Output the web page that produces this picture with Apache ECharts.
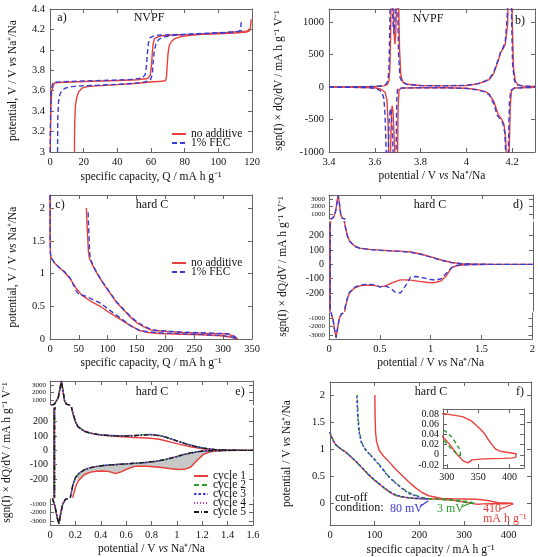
<!DOCTYPE html>
<html>
<head>
<meta charset="utf-8">
<script src="https://cdn.jsdelivr.net/npm/echarts@6/dist/echarts.min.js"></script>
<style>
  html, body { margin: 0; padding: 0; background: #fff; }
  #chart { width: 538px; height: 557px; }
</style>
</head>
<body>
<div id="chart"></div>
<script>
// ---- panel a: NVPF voltage profiles [capacity, potential]
const aRedCharge = [[14.5,3.0],[14.7,3.3],[15.1,3.45],[15.8,3.53],[17,3.59],[19,3.625],[22,3.64],[30,3.65],[40,3.66],[50,3.67],[60,3.685],[66,3.692],[68.6,3.697],[69.2,3.74],[69.6,3.85],[70.1,3.96],[70.8,4.04],[72,4.08],[74,4.11],[78,4.13],[85,4.145],[95,4.16],[105,4.17],[112,4.178],[116,4.183],[118.3,4.19],[119.1,4.22],[119.5,4.3]];
const aRedDisch = [[119,4.19],[117,4.175],[110,4.165],[100,4.158],[85,4.15],[72,4.145],[65,4.135],[62,4.11],[61.2,4.05],[60.7,3.95],[60.2,3.83],[59.5,3.75],[58,3.72],[52,3.707],[40,3.7],[25,3.692],[12,3.685],[5,3.68],[2.5,3.675],[1.5,3.66],[1,3.6],[0.6,3.45],[0.3,3.2],[0.2,3.0]];
const aBlueCharge = [[4.5,3.0],[4.6,3.3],[5,3.48],[5.8,3.56],[7,3.6],[9,3.625],[13,3.64],[20,3.648],[30,3.655],[40,3.662],[50,3.672],[56,3.685],[59.5,3.7],[60.8,3.76],[61.3,3.88],[61.9,3.98],[62.8,4.05],[64.5,4.1],[67,4.125],[72,4.14],[80,4.15],[90,4.16],[100,4.168],[108,4.175],[112.5,4.182],[113.3,4.22],[113.8,4.3]];
const aBlueDisch = [[113.8,4.19],[112,4.178],[105,4.168],[95,4.16],[80,4.152],[68,4.147],[62,4.14],[59.5,4.12],[58.4,4.06],[57.8,3.96],[57.3,3.84],[56.6,3.76],[55,3.725],[48,3.71],[35,3.702],[20,3.695],[8,3.688],[3,3.683],[1.5,3.67],[0.8,3.6],[0.4,3.45],[0.2,3.2],[0.1,3.0]];

// ---- panel b: NVPF dQ/dV [potential, sgn(I) dQ/dV]
const bRedCharge = [[3.40,2],[3.5,3],[3.6,7],[3.64,18],[3.655,40],[3.662,100],[3.666,280],[3.669,750],[3.672,1500],[3.676,1800],[3.68,1250],[3.684,850],[3.688,660],[3.692,850],[3.696,1500],[3.7,2000],[3.704,1400],[3.708,600],[3.714,180],[3.722,80],[3.74,42],[3.8,22],[3.9,18],[4.0,24],[4.05,48],[4.08,82],[4.1,115],[4.12,210],[4.14,410],[4.15,530],[4.16,585],[4.17,660],[4.18,950],[4.188,1800],[4.195,2200],[4.2,1100],[4.206,300],[4.214,90],[4.225,30],[4.25,13],[4.3,7]];
const bRedDisch = [[3.40,-2],[3.5,-4],[3.6,-12],[3.625,-30],[3.645,-80],[3.653,-200],[3.658,-550],[3.662,-1200],[3.666,-1500],[3.67,-800],[3.673,-400],[3.676,-290],[3.68,-380],[3.685,-800],[3.69,-1400],[3.695,-1800],[3.699,-1200],[3.702,-300],[3.706,-40],[3.72,-15],[3.8,-12],[3.9,-12],[4.0,-20],[4.05,-40],[4.08,-68],[4.1,-105],[4.12,-220],[4.14,-430],[4.155,-500],[4.165,-580],[4.172,-800],[4.178,-1400],[4.183,-1700],[4.188,-900],[4.192,-300],[4.197,-60],[4.21,-15],[4.3,-5]];
const bBlueCharge = [[3.40,2],[3.5,3],[3.6,8],[3.635,20],[3.65,45],[3.658,110],[3.662,300],[3.665,800],[3.668,1500],[3.672,1800],[3.676,1300],[3.68,950],[3.684,820],[3.688,1000],[3.692,1600],[3.696,2000],[3.7,1300],[3.704,500],[3.71,150],[3.72,70],[3.74,40],[3.8,22],[3.9,18],[4.0,26],[4.05,52],[4.08,88],[4.1,125],[4.12,230],[4.14,430],[4.15,545],[4.16,600],[4.17,700],[4.178,1050],[4.186,1900],[4.192,2200],[4.197,1200],[4.202,350],[4.21,100],[4.22,35],[4.25,14],[4.3,8]];
const bBlueDisch = [[3.40,-2],[3.5,-4],[3.58,-12],[3.61,-30],[3.63,-70],[3.64,-180],[3.645,-450],[3.65,-1000],[3.655,-1500],[3.659,-1000],[3.663,-500],[3.668,-330],[3.673,-420],[3.678,-800],[3.683,-1300],[3.688,-1700],[3.692,-1300],[3.696,-200],[3.7,-20],[3.72,-15],[3.8,-12],[3.9,-12],[4.0,-22],[4.05,-45],[4.08,-75],[4.1,-120],[4.12,-260],[4.135,-440],[4.15,-500],[4.16,-560],[4.168,-700],[4.174,-1200],[4.179,-1700],[4.184,-900],[4.188,-250],[4.194,-50],[4.21,-15],[4.3,-5]];

// ---- panel c: hard carbon voltage profiles
const cRedDisch = [[0,2.2],[0.2,1.5],[0.8,1.3],[2,1.24],[8,1.16],[15,1.1],[25,1.02],[35,0.92],[45,0.78],[55,0.67],[70,0.58],[87,0.5],[105,0.39],[122,0.3],[140,0.2],[155,0.13],[170,0.1],[190,0.085],[230,0.072],[261,0.066],[296,0.05],[312,0.03],[319,0.015],[325,0.003]];
const cRedCharge = [[325,0.003],[319,0.04],[307,0.077],[280,0.085],[261,0.09],[230,0.1],[203,0.117],[185,0.125],[174,0.14],[162,0.19],[151,0.245],[140,0.33],[127,0.45],[115,0.56],[104,0.7],[92,0.85],[81,1.01],[74,1.12],[68,1.24],[66.5,1.35],[65,1.6],[64,1.8],[63,2.0]];
const cBlueDisch = [[0,2.2],[0.2,1.5],[0.8,1.3],[2,1.24],[8,1.16],[15,1.1],[25,1.03],[35,0.93],[45,0.74],[50,0.68],[60,0.66],[70,0.62],[87,0.55],[105,0.43],[122,0.32],[140,0.2],[155,0.13],[170,0.11],[190,0.095],[230,0.08],[261,0.07],[296,0.055],[312,0.035],[319,0.02],[323,0.005]];
const cBlueCharge = [[323,0.005],[320,0.04],[308,0.08],[280,0.09],[261,0.095],[230,0.105],[203,0.12],[185,0.13],[174,0.15],[162,0.2],[151,0.26],[140,0.34],[127,0.46],[115,0.57],[104,0.71],[92,0.86],[82,1.0],[76,1.1],[70,1.22],[68.5,1.35],[67.5,1.6],[66.5,1.8],[66,1.98]];

// ---- panel d: hard carbon dQ/dV, no additive vs FEC
const dDisX = [2.0,1.6,1.4,1.3,1.25,1.2,1.15,1.1,1.05,1.0,0.95,0.9,0.85,0.8,0.75,0.7,0.65,0.6,0.55,0.5,0.45,0.4,0.35,0.3,0.25,0.2,0.18,0.16,0.14,0.12,0.1,0.085,0.07,0.055,0.04,0.025,0.015,0.012];
const dRedDis = [0,0,-1,-5,-10,-23,-80,-115,-125,-128,-125,-120,-115,-110,-108,-108,-120,-135,-152,-155,-148,-145,-146,-150,-165,-200,-240,-300,-400,-560,-1100,-2100,-3300,-2400,-1200,-600,-430,-420];
const dBlueDis = [0,0,-1,-3,-8,-25,-62,-100,-110,-106,-98,-90,-85,-88,-150,-200,-195,-165,-150,-158,-143,-140,-140,-145,-160,-195,-235,-290,-390,-560,-1150,-2200,-3300,-2400,-1200,-600,-430,-420];
const dChgX = [0.012,0.02,0.035,0.05,0.065,0.08,0.09,0.1,0.115,0.13,0.145,0.16,0.18,0.2,0.25,0.3,0.4,0.5,0.6,0.7,0.8,0.9,1.0,1.1,1.2,1.3,1.4,1.5,1.6,1.8,2.0];
const dRedChg = [280,310,420,700,1400,2800,3600,2600,900,420,320,260,200,165,128,113,104,99,95,92,86,72,52,30,13,5,2,1,0,0,0];
const dBlueChg = [280,300,400,680,1350,2700,3500,2700,950,430,325,262,198,163,126,112,103,98,94,90,84,70,50,28,12,5,2,1,0,0,0];

// ---- panel e: hard carbon dQ/dV, cycles 1-5
const eDisX = [1.6,1.5,1.4,1.35,1.3,1.25,1.2,1.15,1.1,1.05,1.0,0.95,0.9,0.85,0.8,0.75,0.7,0.65,0.6,0.55,0.5,0.45,0.4,0.35,0.3,0.25,0.2,0.18,0.16,0.14,0.12,0.1,0.085,0.07,0.055,0.04,0.025,0.015,0.012];
const eChgX = [0.012,0.02,0.035,0.05,0.065,0.08,0.09,0.1,0.115,0.13,0.145,0.16,0.18,0.2,0.25,0.3,0.35,0.4,0.45,0.5,0.55,0.6,0.65,0.7,0.75,0.8,0.85,0.9,0.95,1.0,1.05,1.1,1.15,1.2,1.25,1.3,1.35,1.4,1.5,1.6];
const eDis = [
  [0,0,-1,-2,-5,-12,-30,-72,-118,-132,-133,-128,-123,-118,-114,-111,-110,-112,-128,-148,-162,-148,-144,-146,-152,-170,-215,-255,-320,-400,-520,-1000,-2000,-3300,-2500,-1300,-600,-430,-420],
  [0,0,0,-1,-2,-4,-6,-12,-20,-30,-42,-54,-65,-74,-80,-85,-88,-91,-94,-97,-100,-103,-107,-113,-122,-137,-168,-193,-240,-325,-490,-1050,-2100,-3350,-2500,-1300,-600,-425,-415],
  [0,0,0,-1,-2,-3,-6,-11,-19,-29,-41,-53,-64,-73,-79,-84,-88,-91,-93,-96,-99,-102,-106,-112,-121,-136,-166,-191,-237,-322,-485,-1050,-2100,-3350,-2500,-1300,-600,-425,-415],
  [0,0,0,-1,-2,-3,-5,-10,-18,-28,-40,-52,-63,-72,-78,-83,-87,-90,-93,-96,-99,-102,-106,-112,-120,-135,-165,-190,-236,-321,-482,-1050,-2100,-3350,-2500,-1300,-600,-425,-415],
  [0,0,0,-1,-2,-3,-5,-10,-18,-28,-40,-52,-63,-72,-78,-83,-87,-90,-93,-96,-99,-102,-106,-112,-120,-135,-165,-190,-235,-320,-480,-1050,-2100,-3350,-2500,-1300,-600,-425,-415]
];
const eChg = [
  [280,310,420,650,1300,2700,3600,2500,850,400,310,255,200,165,135,120,112,106,102,98,95,92,90,88,86,83,77,67,56,45,35,25,17,11,6,3,2,1,0,0],
  [280,310,420,650,1300,2700,3600,2500,850,400,310,256,199,164,134,119,112,107,104,102,101,102,104,107,110,109,103,93,79,64,50,37,26,17,10,5,3,1,0,0],
  [280,310,420,650,1300,2700,3600,2500,850,400,310,256,199,164,134,120,112,107,104,102,101,101,103,106,110,110,104,93,79,63,49,36,25,16,10,5,3,1,0,0],
  [280,310,420,650,1300,2700,3600,2500,850,400,310,255,198,163,133,119,111,106,103,101,100,101,103,106,109,109,103,92,78,63,49,36,25,16,10,5,3,1,0,0],
  [280,310,420,650,1300,2700,3600,2500,850,400,310,255,198,163,133,119,111,106,103,101,100,100,102,105,108,108,102,92,78,63,49,36,25,16,10,5,3,1,0,0]
];
const cycleNames = ['cycle 1','cycle 2','cycle 3','cycle 4','cycle 5'];

// ---- panel f: rate / cut-off curves
const fRedDisch = [[0,1.32],[2,1.25],[8,1.15],[13,1.08],[25,1.0],[36,0.94],[47,0.86],[58,0.77],[72,0.65],[87,0.52],[102,0.41],[117,0.31],[128,0.24],[139,0.18],[150,0.14],[161,0.12],[175,0.1],[191,0.09],[210,0.085],[235,0.08],[273,0.06],[294,0.035],[305,0.02],[315,0.003],[326,-0.012],[334,-0.016],[340,-0.01],[360,-0.008],[390,-0.007],[405,-0.006],[410,-0.005]];
const fRedCharge = [[410,-0.005],[410.5,0.002],[405,0.003],[395,0.005],[385,0.007],[378,0.011],[372,0.02],[366,0.03],[360,0.042],[352,0.052],[340,0.066],[325,0.075],[300,0.08],[280,0.083],[250,0.09],[221,0.14],[206,0.2],[191,0.29],[176,0.4],[161,0.52],[146,0.64],[132,0.77],[120,0.87],[110,0.98],[104,1.15],[102,1.32],[101,1.6],[100.5,2.0]];
const fBlueDisch = [[0,1.32],[2,1.25],[8,1.15],[13,1.08],[25,1.0],[36,0.94],[47,0.86],[58,0.78],[72,0.66],[87,0.53],[102,0.42],[117,0.32],[128,0.25],[139,0.19],[150,0.15],[161,0.125],[175,0.105],[191,0.095],[210,0.088],[220,0.08]];
const fBlueCharge = [[220,0.08],[215,0.09],[206,0.1],[191,0.14],[176,0.18],[162,0.27],[147,0.37],[130,0.5],[110,0.71],[95,0.85],[80,0.98],[70,1.12],[65,1.32],[62,1.6],[60,2.0]];
const fGreenDisch = [[0,1.32],[2,1.25],[8,1.15],[13,1.08],[25,1.0],[36,0.94],[47,0.86],[58,0.77],[72,0.65],[87,0.52],[102,0.41],[117,0.31],[128,0.24],[139,0.18],[150,0.14],[161,0.12],[175,0.1],[191,0.09],[210,0.085],[235,0.078],[273,0.06],[294,0.03],[305,0.015],[315,0.003],[322,-0.002]];
const fGreenCharge = [[322,-0.002],[321,0.01],[316,0.02],[308,0.035],[298,0.046],[280,0.06],[250,0.075],[221,0.09],[206,0.11],[191,0.15],[176,0.2],[162,0.28],[147,0.38],[130,0.51],[110,0.72],[95,0.86],[80,0.99],[71,1.12],[66,1.32],[63,1.6],[61,2.0]];

const FONT = 'Liberation Serif';
const AX = '#666';
const RED = '#e8403c', BLUE = '#3c3cd2', GREEN = '#2a9d2a', MAG = '#c03cc0', BLACK = '#1a1a1a';
const VS_NA = 'potential / V {i|vs} Na⁺/Na';
const DQDV = 'sgn(I) × dQ/dV / mA h g⁻¹ V⁻¹';

const grids = [], xAxes = [], yAxes = [], series = [];
const plain = v => String(Math.round(v * 1000) / 1000);

function axis(o) {
  const a = {
    type: 'value',
    nameLocation: 'middle',
    axisLine: { show: true, onZero: false, lineStyle: { color: AX, width: 1 } },
    axisTick: { show: true, inside: true, length: 4, lineStyle: { color: AX } },
    axisLabel: { color: '#111', fontSize: 10.5, fontFamily: FONT, margin: 5, formatter: plain, showMaxLabel: true, hideOverlap: false },
    splitLine: { show: false },
    nameTextStyle: { color: '#111', fontSize: 11.5, fontFamily: FONT,
      rich: { i: { fontStyle: 'italic', fontSize: 11.5, fontFamily: FONT, color: '#111' } } }
  };
  for (const k in o) {
    if (a[k] && typeof a[k] === 'object' && !Array.isArray(a[k])) a[k] = Object.assign({}, a[k], o[k]);
    else a[k] = o[k];
  }
  return a;
}
function addGrid(g) { grids.push(g); return grids.length - 1; }
function addX(o) { xAxes.push(axis(o)); return xAxes.length - 1; }
function addY(o) { yAxes.push(axis(o)); return yAxes.length - 1; }
function line(name, xi, yi, data, color, dash, extra) {
  series.push(Object.assign({
    type: 'line', name, xAxisIndex: xi, yAxisIndex: yi, data,
    symbol: 'none', showSymbol: false, color, clip: true, animation: false,
    lineStyle: { color, width: 1.4, type: dash || 'solid' }
  }, extra || {}));
}
const pairs = (xs, ys) => xs.map((x, i) => [x, ys[i]]);
// drop runs of points lying outside [lo, hi]; keep the neighbours that cross the edge
function inBand(data, lo, hi) {
  const out = (p) => !p || p[1] < lo || p[1] > hi;
  return data.map((p, i) => (out(p) && out(data[i - 1]) && out(data[i + 1]) ? [p[0], null] : p));
}
const noMax = { showMaxLabel: false };

// ---- panel a
{
  const g = addGrid({ left: 50, top: 9, width: 202, height: 143 });
  const x = addX({ gridIndex: g, min: 0, max: 120, interval: 20, name: 'specific capacity, Q / mA h g⁻¹', nameGap: 19 });
  addX({ gridIndex: g, min: 0, max: 120, interval: 20, position: 'top', axisLabel: { show: false } });
  const y = addY({ gridIndex: g, min: 3, max: 4.4, interval: 0.2, name: 'potential, V / V {i|vs} Na⁺/Na', nameGap: 31 });
  addY({ gridIndex: g, min: 3, max: 4.4, interval: 0.2, position: 'right', axisLabel: { show: false } });
  line('no additive', x, y, aRedCharge, RED);
  line('no additive', x, y, aRedDisch, RED);
  line('1% FEC', x, y, aBlueCharge, BLUE, [5, 3]);
  line('1% FEC', x, y, aBlueDisch, BLUE, [5, 3]);
}
// ---- panel b
{
  const g = addGrid({ left: 329, top: 9, width: 206, height: 143 });
  const x = addX({ gridIndex: g, min: 3.4, max: 4.3, interval: 0.2, name: VS_NA, nameGap: 18, axisLabel: noMax });
  addX({ gridIndex: g, min: 3.4, max: 4.3, interval: 0.2, position: 'top', axisLabel: { show: false } });
  const y = addY({ gridIndex: g, min: -1000, max: 1200, interval: 500, name: DQDV, nameGap: 44, axisLabel: noMax });
  addY({ gridIndex: g, min: -1000, max: 1200, interval: 500, position: 'right', axisLabel: { show: false } });
  line('no additive', x, y, bRedCharge, RED);
  line('no additive', x, y, bRedDisch, RED);
  line('1% FEC', x, y, bBlueCharge, BLUE, [5, 3]);
  line('1% FEC', x, y, bBlueDisch, BLUE, [5, 3]);
}
// ---- panel c
{
  const g = addGrid({ left: 50, top: 195, width: 202, height: 144 });
  const x = addX({ gridIndex: g, min: 0, max: 350, interval: 50, name: 'specific capacity, Q / mA h g⁻¹', nameGap: 18 });
  addX({ gridIndex: g, min: 0, max: 350, interval: 50, position: 'top', axisLabel: { show: false } });
  const y = addY({ gridIndex: g, min: 0, max: 2.2, interval: 0.5, name: 'potential, V / V {i|vs} Na⁺/Na', nameGap: 31, axisLabel: noMax });
  addY({ gridIndex: g, min: 0, max: 2.2, interval: 0.5, position: 'right', axisLabel: { show: false } });
  line('no additive', x, y, cRedDisch, RED);
  line('no additive', x, y, cRedCharge, RED);
  line('1% FEC', x, y, cBlueDisch, BLUE, [5, 3]);
  line('1% FEC', x, y, cBlueCharge, BLUE, [5, 3]);
}

// broken-axis dQ/dV panel: top (peak), middle, bottom (trough)
function brokenPanel(left, top, width, xmax, xint, loops) {
  const small = { fontSize: 7, lineHeight: 6, margin: 4 };
  const T = [300, 3600], M = [-325, 295], B = [-3470, -410];
  const gT = addGrid({ left, top, width, height: 24 });
  const gM = addGrid({ left, top: top + 27, width, height: 89 });
  const gB = addGrid({ left, top: top + 118, width, height: 26 });
  const xT = addX({ gridIndex: gT, min: 0, max: xmax, interval: xint, position: 'top', axisLabel: { show: false } });
  const xM = addX({ gridIndex: gM, min: 0, max: xmax, interval: xint, show: false });
  const xB = addX({ gridIndex: gB, min: 0, max: xmax, interval: xint, name: VS_NA, nameGap: 18 });
  const topVals = [1000, 2000, 3000], midVals = [-200, -100, 0, 100, 200], botVals = [-3000, -2000, -1000];
  const yT = addY({ gridIndex: gT, min: T[0], max: T[1],
    axisLabel: Object.assign({ customValues: topVals }, small), axisTick: { customValues: topVals } });
  addY({ gridIndex: gT, min: T[0], max: T[1], position: 'right',
    axisLabel: { show: false, customValues: topVals }, axisTick: { customValues: topVals } });
  const yM = addY({ gridIndex: gM, min: M[0], max: M[1], name: DQDV, nameGap: 40,
    axisLabel: { customValues: midVals, fontSize: 10 }, axisTick: { customValues: midVals } });
  addY({ gridIndex: gM, min: M[0], max: M[1], position: 'right',
    axisLabel: { show: false, customValues: midVals }, axisTick: { customValues: midVals } });
  const yB = addY({ gridIndex: gB, min: B[0], max: B[1],
    axisLabel: Object.assign({ customValues: botVals }, small), axisTick: { customValues: botVals } });
  addY({ gridIndex: gB, min: B[0], max: B[1], position: 'right',
    axisLabel: { show: false, customValues: botVals }, axisTick: { customValues: botVals } });
  loops.forEach(l => {
    line(l.name, xT, yT, inBand(l.data, T[0], T[1]), l.color, l.dash);
    line(l.name, xM, yM, inBand(l.data, M[0], M[1]), l.color, l.dash);
    line(l.name, xB, yB, inBand(l.data, B[0], B[1]), l.color, l.dash);
  });
  return { xM, yM };
}

// ---- panel d
brokenPanel(329, 195, 204, 2, 0.5, [
  { name: 'no additive', color: RED, dash: 'solid', data: pairs(dDisX, dRedDis).concat(pairs(dChgX, dRedChg)) },
  { name: '1% FEC', color: BLUE, dash: [5, 3], data: pairs(dDisX, dBlueDis).concat(pairs(dChgX, dBlueChg)) }
]);

// ---- panel e
const eColors = [RED, GREEN, BLUE, MAG, BLACK];
const eDash = ['solid', [5, 3], [2.5, 2], [1, 2], [5, 2, 1, 2]];
const eAx = brokenPanel(50, 381, 203, 1.6, 0.2, cycleNames.map((n, i) => ({
  name: n, color: eColors[i], dash: eDash[i],
  data: pairs(eDisX, eDis[i]).concat(pairs(eChgX, eChg[i]))
})));
// gray area between cycle 1 and cycle 5 on the reduction branch
{
  const fx = eDisX.slice(3, 27), r = eDis[0].slice(3, 27), k = eDis[4].slice(3, 27);
  series.push({
    type: 'custom', xAxisIndex: eAx.xM, yAxisIndex: eAx.yM, data: [[0.6, -100]], z: 1,
    silent: true, animation: false, clip: true,
    renderItem(params, api) {
      const pts = [];
      for (let i = 0; i < fx.length; i++) pts.push(api.coord([fx[i], r[i]]));
      for (let i = fx.length - 1; i >= 0; i--) pts.push(api.coord([fx[i], k[i]]));
      return { type: 'polygon', shape: { points: pts }, style: { fill: '#c8c8c8', stroke: '#999', lineWidth: 0.5 } };
    }
  });
}

// ---- panel f
{
  const g = addGrid({ left: 330, top: 382, width: 201, height: 143 });
  const yTicks = [0, 0.5, 1, 1.5, 2];
  const x = addX({ gridIndex: g, min: 0, max: 450, interval: 100, name: 'specific capacity / mA h g⁻¹', nameGap: 19, axisLabel: noMax });
  addX({ gridIndex: g, min: 0, max: 450, interval: 100, position: 'top', axisLabel: { show: false } });
  const y = addY({ gridIndex: g, min: -0.4, max: 2.24, name: VS_NA, nameGap: 37,
    axisLabel: { customValues: yTicks }, axisTick: { customValues: yTicks } });
  addY({ gridIndex: g, min: -0.4, max: 2.24, position: 'right',
    axisLabel: { show: false, customValues: yTicks }, axisTick: { customValues: yTicks } });
  const arrow = (color, from, to) => ({
    silent: true, animation: false, symbol: ['none', 'arrow'], symbolSize: [0, 7],
    label: { show: false }, lineStyle: { color, type: 'solid', width: 1.2 },
    data: [[{ coord: from }, { coord: to }]]
  });
  line('410', x, y, fRedDisch, RED, 'solid', { markLine: arrow(RED, [380, -0.11], [410, -0.013]) });
  line('410', x, y, fRedCharge, RED);
  line('3 mV', x, y, fGreenDisch, GREEN, [4, 3], { markLine: arrow(GREEN, [295, -0.063], [317, 0.011]) });
  line('3 mV', x, y, fGreenCharge, GREEN, [4, 3]);
  line('80 mV', x, y, fBlueDisch, BLUE, [2.5, 2], { markLine: arrow(BLUE, [201, -0.063], [220, 0.048]) });
  line('80 mV', x, y, fBlueCharge, BLUE, [2.5, 2]);

  // inset
  const gi = addGrid({ left: 443, top: 409, width: 81, height: 59 });
  const ixT = [300, 350, 400], iyT = [-0.02, 0, 0.02, 0.04, 0.06, 0.08];
  const xi = addX({ gridIndex: gi, min: 294, max: 423, axisLabel: { customValues: ixT, fontSize: 10, margin: 4 }, axisTick: { customValues: ixT } });
  addX({ gridIndex: gi, min: 294, max: 423, position: 'top', axisLabel: { show: false, customValues: ixT }, axisTick: { customValues: ixT } });
  const yi = addY({ gridIndex: gi, min: -0.026, max: 0.09, axisLabel: { customValues: iyT, fontSize: 10, margin: 4 }, axisTick: { customValues: iyT } });
  addY({ gridIndex: gi, min: -0.026, max: 0.09, position: 'right', axisLabel: { show: false, customValues: iyT }, axisTick: { customValues: iyT } });
  line('410', xi, yi, fRedDisch, RED);
  line('410', xi, yi, fRedCharge, RED);
  line('3 mV', xi, yi, fGreenDisch, GREEN, [4, 3]);
  line('3 mV', xi, yi, fGreenCharge, GREEN, [4, 3]);
}

const txt = (text, x, y, fill, align) => ({
  type: 'text', x, y, silent: true,
  style: { text, fill: fill || '#111', font: '12px "Liberation Serif"', textAlign: align || 'center', textVerticalAlign: 'middle' }
});
const legendBase = {
  orient: 'vertical', itemWidth: 14, itemHeight: 6, itemGap: -3, selectedMode: false,
  itemStyle: { opacity: 0 },
  textStyle: { fontFamily: FONT, fontSize: 11.5, color: '#111' }
};

const chart = echarts.init(document.getElementById('chart'));
chart.setOption({
  animation: false,
  textStyle: { fontFamily: FONT },
  grid: grids,
  xAxis: xAxes,
  yAxis: yAxes,
  series,
  legend: [
    Object.assign({ left: 166, top: 123, data: ['no additive', '1% FEC'] }, legendBase),
    Object.assign({ left: 166, top: 252, data: ['no additive', '1% FEC'] }, legendBase),
    Object.assign({ left: 188, top: 465, data: cycleNames }, legendBase)
  ],
  graphic: [
    txt('a)', 62, 18), txt('NVPF', 149, 18), txt('NVPF', 428, 19), txt('b)', 520, 21),
    txt('c)', 60, 205), txt('hard C', 152, 205), txt('hard C', 430, 205), txt('d)', 518, 205),
    txt('hard C', 152, 392), txt('e)', 240, 392), txt('hard C', 431, 392), txt('f)', 520, 392),
    txt('cut-off', 335, 498, '#111', 'left'), txt('condition:', 335, 508, '#111', 'left'),
    txt('80 mV', 390, 509, BLUE, 'left'), txt('3 mV', 437, 509, GREEN, 'left'),
    txt('410', 483, 509, RED, 'left'), txt('mA h g⁻¹', 483, 519, RED, 'left')
  ]
});
</script>
</body>
</html>
